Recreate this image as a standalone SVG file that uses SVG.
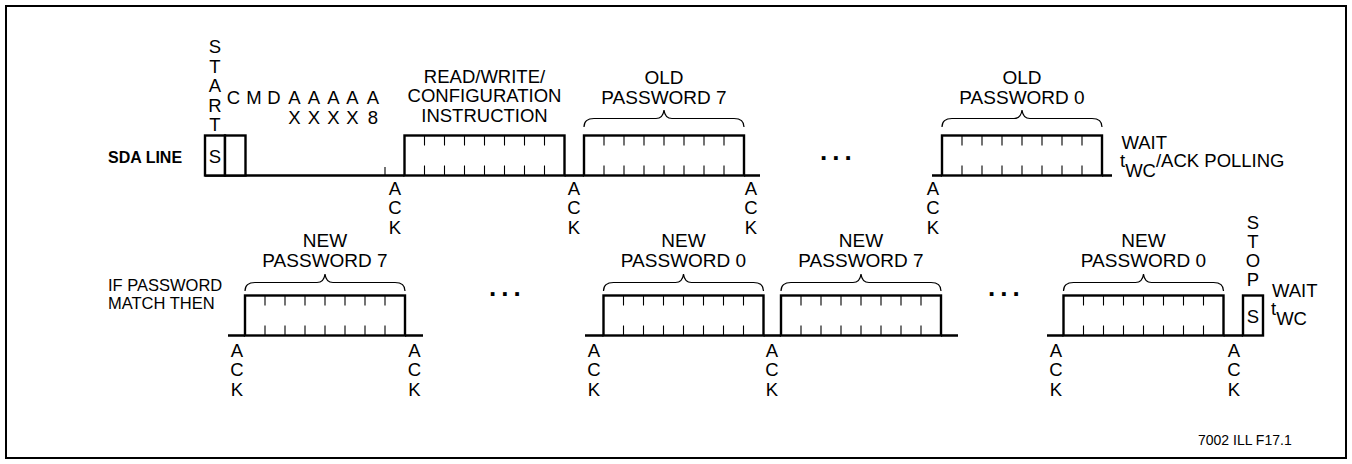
<svg xmlns="http://www.w3.org/2000/svg" xmlns:xlink="http://www.w3.org/1999/xlink" width="1352" height="464" viewBox="0 0 1352 464">
<style>
text{font-family:"Liberation Sans",Arial,sans-serif;font-size:18.5px;fill:#000}
.c{text-anchor:middle}
.b{font-weight:bold;font-size:16px}
.lbl{font-size:16.5px}
.sm{font-size:14px}
.pw{font-size:19px}
.box{fill:#fff;stroke:#000;stroke-width:2.4}
.tick{stroke:#000;stroke-width:1.1}
.sig{fill:none;stroke:#000;stroke-width:2.4}
.brace{fill:none;stroke:#000;stroke-width:1.2}
.dots{font-weight:bold;font-size:26px;letter-spacing:5px}
</style>
<defs>
<g id="byte">
<rect class="box" x="0" y="0" width="160" height="40"/>
<path class="tick" d="M20,0V10M40,0V10M60,0V10M80,0V10M100,0V10M120,0V10M140,0V10M20,40V30M40,40V30M60,40V30M80,40V30M100,40V30M120,40V30M140,40V30"/>
</g>
<path id="brace" class="brace" d="M0,17 Q0,8.5 10,8.5 L72,8.5 Q79,8.5 80,0 Q81,8.5 88,8.5 L150,8.5 Q160,8.5 160,17"/>
</defs>
<rect x="6" y="6" width="1340" height="452" fill="#fff" stroke="#000" stroke-width="2"/>

<g id="labels">
<text class="b" x="108" y="162.5">SDA LINE</text>
<text class="lbl" x="108" y="290.5">IF PASSWORD</text>
<text class="lbl" x="108" y="309">MATCH THEN</text>
<text class="sm" x="1198" y="445">7002 ILL F17.1</text>
</g>

<g id="connectors">
<path class="sig" d="M205,175.5 H404.5 M564.5,175.5 H584 M744,175.5 H760 M932,175.5 H942 M1102,175.5 H1112"/>
<path class="tick" d="M385,167 V175.5"/>
<path class="sig" d="M228,335.5 H245 M405,335.5 H423 M585,335.5 H603.5 M763.5,335.5 H781 M941,335.5 H958 M1047,335.5 H1063.5 M1223.5,335.5 H1243"/>
</g>

<g id="start">
<rect class="box" x="205" y="135.5" width="20" height="40"/>
<text class="c" x="215" y="162.5">S</text>
<text class="c" x="215" y="53">S</text>
<text class="c" x="215" y="72.5">T</text>
<text class="c" x="215" y="92">A</text>
<text class="c" x="215" y="111.5">R</text>
<text class="c" x="215" y="131">T</text>
</g>

<g id="cmd">
<rect class="box" x="225" y="135.5" width="20.5" height="40"/>
<text class="c" x="233.5" y="104">C</text>
<text class="c" x="254" y="104">M</text>
<text class="c" x="274" y="104">D</text>
<text class="c" x="294.5" y="104">A</text>
<text class="c" x="314" y="104">A</text>
<text class="c" x="333.5" y="104">A</text>
<text class="c" x="352.5" y="104">A</text>
<text class="c" x="373" y="104">A</text>
<text class="c" x="294.5" y="123.5">X</text>
<text class="c" x="314" y="123.5">X</text>
<text class="c" x="333.5" y="123.5">X</text>
<text class="c" x="352.5" y="123.5">X</text>
<text class="c" x="373" y="123.5">8</text>
</g>

<g id="ack-top">
<text class="c" x="395" y="194.5">A</text><text class="c" x="395" y="214">C</text><text class="c" x="395" y="233.5">K</text>
<text class="c" x="574" y="194.5">A</text><text class="c" x="574" y="214">C</text><text class="c" x="574" y="233.5">K</text>
<text class="c" x="751" y="194.5">A</text><text class="c" x="751" y="214">C</text><text class="c" x="751" y="233.5">K</text>
<text class="c" x="933" y="194.5">A</text><text class="c" x="933" y="214">C</text><text class="c" x="933" y="233.5">K</text>
</g>

<g id="byte-rw">
<use xlink:href="#byte" x="404.5" y="135.5"/>
<text class="c" x="484.5" y="83">READ/WRITE/</text>
<text class="c" x="484.5" y="102">CONFIGURATION</text>
<text class="c" x="484.5" y="121.5">INSTRUCTION</text>
</g>

<g id="old-pw7">
<use xlink:href="#byte" x="584" y="135.5"/>
<use xlink:href="#brace" x="584" y="110"/>
<text class="c pw" x="664" y="84">OLD</text>
<text class="c pw" x="664" y="103.5">PASSWORD 7</text>
</g>

<g id="dots-top"><text class="dots" x="820" y="160">...</text></g>

<g id="old-pw0">
<use xlink:href="#byte" x="942" y="135.5"/>
<use xlink:href="#brace" x="942" y="110"/>
<text class="c pw" x="1022" y="84">OLD</text>
<text class="c pw" x="1022" y="103.5">PASSWORD 0</text>
</g>

<g id="wait-top">
<text x="1121.5" y="148.5">WAIT</text>
<text x="1120" y="167">t<tspan dy="9.5">WC</tspan><tspan dy="-9.5">/ACK POLLING</tspan></text>
</g>

<g id="ack-bottom">
<text class="c" x="237" y="356.5">A</text><text class="c" x="237" y="376">C</text><text class="c" x="237" y="395.5">K</text>
<text class="c" x="414.5" y="356.5">A</text><text class="c" x="414.5" y="376">C</text><text class="c" x="414.5" y="395.5">K</text>
<text class="c" x="594" y="356.5">A</text><text class="c" x="594" y="376">C</text><text class="c" x="594" y="395.5">K</text>
<text class="c" x="772" y="356.5">A</text><text class="c" x="772" y="376">C</text><text class="c" x="772" y="395.5">K</text>
<text class="c" x="1056" y="356.5">A</text><text class="c" x="1056" y="376">C</text><text class="c" x="1056" y="395.5">K</text>
<text class="c" x="1234" y="356.5">A</text><text class="c" x="1234" y="376">C</text><text class="c" x="1234" y="395.5">K</text>
</g>

<g id="new-pw7-a">
<use xlink:href="#byte" x="245" y="295.5"/>
<use xlink:href="#brace" x="245" y="274"/>
<text class="c pw" x="325" y="247">NEW</text>
<text class="c pw" x="325" y="266.5">PASSWORD 7</text>
</g>

<g id="dots-b1"><text class="dots" x="489" y="296">...</text></g>

<g id="new-pw0-a">
<use xlink:href="#byte" x="603.5" y="295.5"/>
<use xlink:href="#brace" x="603.5" y="274"/>
<text class="c pw" x="683.5" y="247">NEW</text>
<text class="c pw" x="683.5" y="266.5">PASSWORD 0</text>
</g>

<g id="new-pw7-b">
<use xlink:href="#byte" x="781" y="295.5"/>
<use xlink:href="#brace" x="781" y="274"/>
<text class="c pw" x="861" y="247">NEW</text>
<text class="c pw" x="861" y="266.5">PASSWORD 7</text>
</g>

<g id="dots-b2"><text class="dots" x="988" y="296">...</text></g>

<g id="new-pw0-b">
<use xlink:href="#byte" x="1063.5" y="295.5"/>
<use xlink:href="#brace" x="1063.5" y="274"/>
<text class="c pw" x="1143.5" y="247">NEW</text>
<text class="c pw" x="1143.5" y="266.5">PASSWORD 0</text>
</g>

<g id="stop">
<rect class="box" x="1243" y="295.5" width="20" height="40"/>
<text class="c" x="1253" y="322.5">S</text>
<text class="c" x="1253" y="228.5">S</text>
<text class="c" x="1253" y="247.5">T</text>
<text class="c" x="1253" y="266.5">O</text>
<text class="c" x="1253" y="286">P</text>
</g>

<g id="wait-bottom">
<text x="1272" y="296.5">WAIT</text>
<text x="1271" y="315">t<tspan dy="9.5">WC</tspan></text>
</g>
</svg>
